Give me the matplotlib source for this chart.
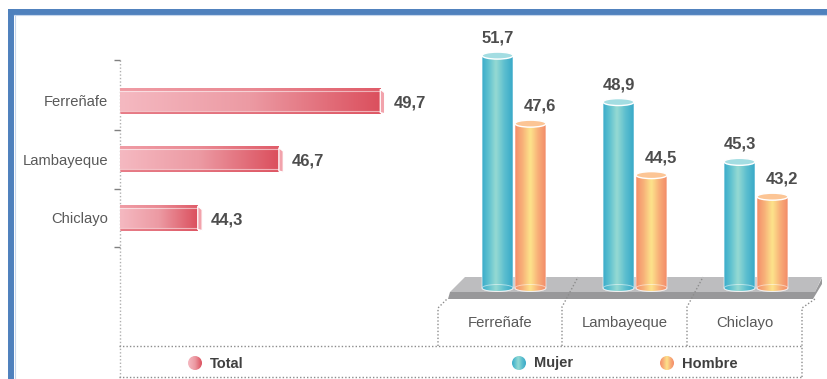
import numpy as np
import matplotlib
matplotlib.use("Agg")
import matplotlib.pyplot as plt
from matplotlib.colors import LinearSegmentedColormap
from matplotlib.patches import Polygon, Ellipse, Circle

plt.rcParams['font.family'] = ['Liberation Sans', 'DejaVu Sans']

# datos (%)
provincias = ["Ferreñafe", "Lambayeque", "Chiclayo"]
total = [49.7, 46.7, 44.3]
mujer = [51.7, 48.9, 45.3]
hombre = [47.6, 44.5, 43.2]
leyenda = ["Total", "Mujer", "Hombre"]

W, H = 827, 379
fig = plt.figure(figsize=(W / 100, H / 100), dpi=100)


def rect(x0, y0, x1, y1):
    # caja en pixeles (origen arriba-izquierda) -> fraccion de figura
    return [x0 / W, 1 - y1 / H, (x1 - x0) / W, (y1 - y0) / H]


def fmt(v):
    return f"{v:.1f}".replace(".", ",")


red_cm = LinearSegmentedColormap.from_list("rojo", ["#f5b9c1", "#ec9aa3", "#db4f5d"])
teal_cm = LinearSegmentedColormap.from_list(
    "turq", [(0, "#39acca"), (0.22, "#60c2d0"), (0.45, "#96dad3"), (0.72, "#5dbfcf"), (1, "#38a9c8")])
orange_cm = LinearSegmentedColormap.from_list(
    "nar", [(0, "#f48d69"), (0.25, "#f8b279"), (0.5, "#fde48b"), (0.75, "#f8ae78"), (1, "#f38b68")])
grad = np.linspace(0, 1, 256).reshape(1, -1)

# fondo: marco, plataforma, lineas punteadas, leyenda
bg = fig.add_axes([0, 0, 1, 1], zorder=0)
bg.axis("off")

bg.plot([8, W], [11.5, 11.5], color="#4f81bd", lw=4.3, solid_capstyle="butt")
bg.plot([11, 11], [9, H], color="#4f81bd", lw=4.3, solid_capstyle="butt")
bg.plot([14, W], [15, 15], color="#c5d6ec", lw=0.8)
bg.plot([14.5, 14.5], [15, H], color="#c5d6ec", lw=0.8)

bg.add_patch(Polygon([(465, 277), (822, 277), (815, 292), (450, 292)], fc="#bdbdbf", ec="none"))
bg.add_patch(Polygon([(450, 292), (815, 292), (822, 278), (822, 284), (813, 299), (448, 299)],
                     fc="#98989a", ec="none"))

dot = dict(color="#8c8c8c", lw=1, ls=(0, (1, 1.5)))
bg.plot([119.5, 119.5], [60, H], color="#b0b0b0", lw=1, ls=(0, (1, 1.5)))
bg.plot([119, 802], [346, 346], **dot)
bg.plot([119, 802], [377, 377], **dot)
bg.plot([438, 438, 447], [346, 308, 299], **dot)
bg.plot([562, 562, 578], [346, 307, 277], **dot)
bg.plot([687, 687, 703], [346, 307, 277], **dot)
bg.plot([802, 802, 815], [377, 308, 299], **dot)

cajas = [438, 562, 687, 802]
for i, p in enumerate(provincias):
    bg.text((cajas[i] + cajas[i + 1]) / 2, 323, p, ha="center", va="center",
            fontsize=10.7, color="#595959")

for nombre, cx, cm in zip(leyenda, [195, 519, 667], [red_cm, teal_cm, orange_cm]):
    r = 7
    im = bg.imshow(grad, cmap=cm, extent=(cx - r, cx + r, 363 + r, 363 - r),
                   interpolation="bicubic", zorder=3)
    im.set_clip_path(Circle((cx, 363), r, transform=bg.transData))
    bg.text(cx + 15, 363.5, nombre, ha="left", va="center", fontsize=10.5,
            fontweight="bold", color="#404040")

bg.set_aspect("auto")
bg.set_xlim(0, W)
bg.set_ylim(H, 0)

# barras horizontales: Total
axL = fig.add_axes(rect(120, 60, 440, 247), zorder=1)
axL.patch.set_visible(False)
x_base = 42
px_x = 33.8
bar_h = 0.44
e = 0.05
d = 0.13
for i, v in enumerate(total):
    top, bot = i - bar_h / 2, i + bar_h / 2
    axL.imshow(grad, cmap=red_cm, extent=(x_base, v, bot, top), aspect="auto",
               interpolation="bicubic", zorder=2)
    axL.add_patch(Polygon([(x_base, top), (v, top), (v, top + e), (x_base, top + e)],
                          fc="#e8707b", alpha=0.4, ec="none", zorder=3))
    axL.add_patch(Polygon([(x_base, bot - e), (v, bot - e), (v, bot), (x_base + 0.04, bot)],
                          fc="#e05b68", alpha=0.65, ec="none", zorder=3))
    axL.plot([x_base, v], [top + e, top + e], color="white", lw=0.8, alpha=0.55, zorder=4)
    axL.plot([x_base, v], [bot - e, bot - e], color="white", lw=0.8, alpha=0.55, zorder=4)
    axL.add_patch(Polygon([(v, top + 0.02), (v + d, top + e + 0.03), (v + d, bot), (v, bot - 0.02)],
                          fc="#f2a3ac", ec="white", lw=0.9, zorder=4))
    axL.annotate(fmt(v), xy=(v, i), xytext=(9.4, -1.5), textcoords="offset points",
                 ha="left", va="center", fontsize=12, fontweight="bold", color="#4d4d4d")

axL.set_xlim(x_base, x_base + 320 / px_x)
axL.set_ylim(2.5, -0.7)
axL.set_xticks([])
axL.set_yticks(range(len(provincias)), provincias, fontsize=10.6, color="#595959")
axL.set_yticks([-0.7, 0.5, 1.5, 2.5], minor=True)
axL.tick_params(axis="y", which="major", length=0, pad=8.6)
axL.tick_params(axis="y", which="minor", length=4.5, width=1, color="#808080")
for s in axL.spines.values():
    s.set_visible(False)

# cilindros: Mujer / Hombre
axR = fig.add_axes(rect(453.5, 20, 816.5, 300), zorder=1)
axR.patch.set_visible(False)
axR.axis("off")
y_base = 37.7
px_y = 16.6
cyl_w = 0.256
off = 0.136
eh = 0.42


def cilindro(xc, v, cm, tapa, dx):
    x0, x1 = xc - cyl_w / 2, xc + cyl_w / 2
    t = np.linspace(0, np.pi, 40)
    pts = [(x0, v)] + list(zip(xc - np.cos(t) * cyl_w / 2, y_base - np.sin(t) * eh / 2)) + [(x1, v)]
    im = axR.imshow(grad, cmap=cm, extent=(x0, x1, y_base - eh / 2, v), aspect="auto",
                    interpolation="bicubic", zorder=2)
    im.set_clip_path(Polygon(pts, closed=True, transform=axR.transData))
    axR.add_patch(Polygon(pts, closed=True, fill=False, ec="white", lw=0.7, alpha=0.6, zorder=3))
    axR.add_patch(Ellipse((xc, y_base), cyl_w, eh, fill=False, ec="white", lw=0.7, alpha=0.5, zorder=3))
    axR.add_patch(Ellipse((xc, v), cyl_w, eh, fc=tapa, ec="white", lw=1, zorder=4))
    axR.annotate(fmt(v), xy=(xc, v), xytext=(dx, 12.5), textcoords="offset points",
                 ha="center", va="center", fontsize=12, fontweight="bold", color="#4d4d4d")


for i in range(len(provincias)):
    cilindro(i - off, mujer[i], teal_cm, "#a3dde2", 0)
    cilindro(i + off, hombre[i], orange_cm, "#fcc595", 6.5)

axR.set_xlim(-0.5, 2.5)
axR.set_ylim(y_base - 12 / px_y, y_base + 268 / px_y)

fig.savefig("out.png", dpi=100)
